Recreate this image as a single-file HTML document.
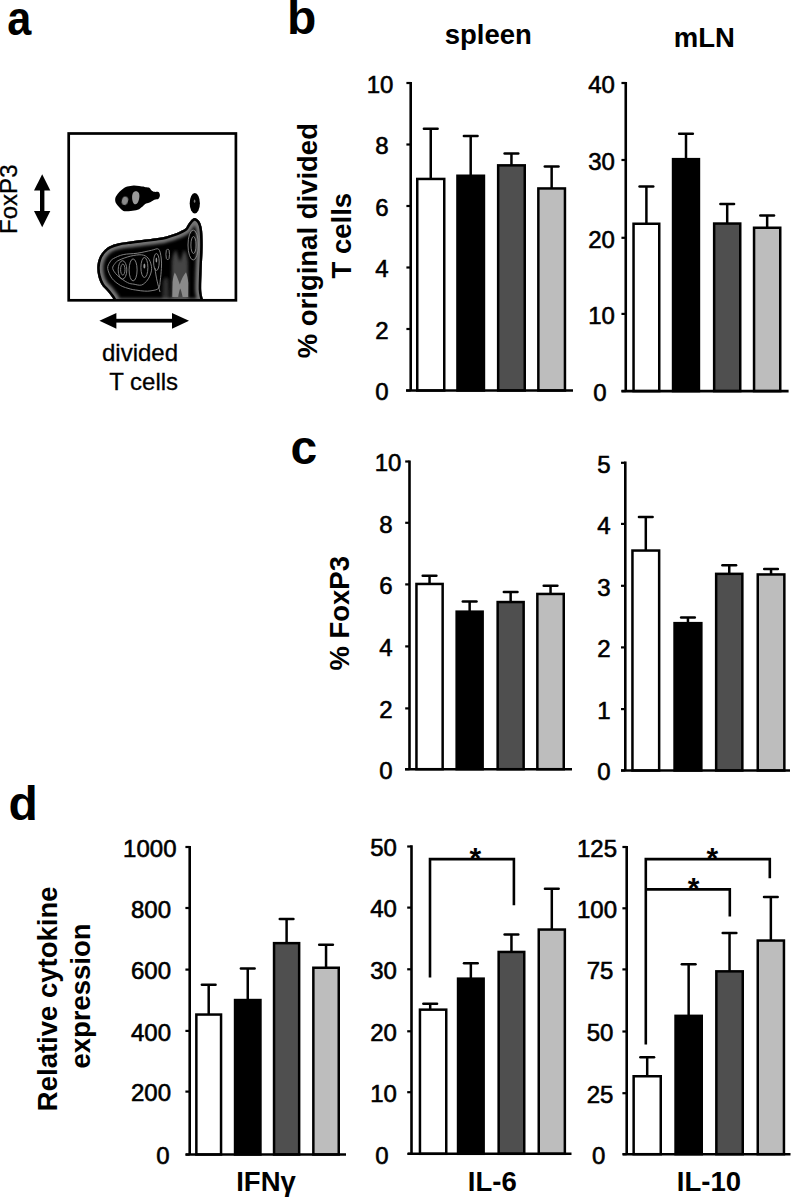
<!DOCTYPE html><html><head><meta charset="utf-8"><title>figure</title><style>
html,body{margin:0;padding:0;background:#fff;width:793px;height:1197px;overflow:hidden}
svg{display:block}
text{font-family:"Liberation Sans",sans-serif;fill:#000}
.tk{font-size:24px;text-anchor:middle;stroke:#000;stroke-width:0.6px}
.pl{font-size:48px;font-weight:bold}
.ttl{font-size:27.5px;font-weight:bold;text-anchor:middle}
.ast{font-size:30px;font-weight:bold;text-anchor:middle}
.lab{font-size:24px;text-anchor:middle;stroke:#000;stroke-width:0.3px}
</style></head><body>
<svg width="793" height="1197" viewBox="0 0 793 1197">
<rect width="793" height="1197" fill="#fff"/>
<text class="pl" transform="translate(7.2,34.8) scale(0.9,1)">a</text>
<text x="287" y="33.7" class="pl">b</text>
<text x="290.5" y="464" class="pl">c</text>
<text x="8.5" y="819.7" class="pl">d</text>
<text x="488.3" y="43.8" class="ttl">spleen</text>
<text x="704.4" y="46.5" class="ttl">mLN</text>
<text class="ttl" transform="translate(316.9,240.7) rotate(-90)" x="0" y="0">% original divided</text>
<text class="ttl" transform="translate(350.5,235.7) rotate(-90)" x="0" y="0">T cells</text>
<text class="ttl" transform="translate(348.6,613.3) rotate(-90)" x="0" y="0">% FoxP3</text>
<text class="ttl" transform="translate(56.6,998.8) rotate(-90)" x="0" y="0">Relative cytokine</text>
<text class="ttl" transform="translate(89.7,996) rotate(-90)" x="0" y="0">expression</text>
<line x1="410.7" y1="82" x2="410.7" y2="390.5" stroke="#000" stroke-width="2.6"/>
<line x1="406.4" y1="83" x2="410.7" y2="83" stroke="#000" stroke-width="2.2"/>
<text x="380" y="92.7" class="tk">10</text>
<line x1="406.4" y1="144.5" x2="410.7" y2="144.5" stroke="#000" stroke-width="2.2"/>
<text x="382" y="154.2" class="tk">8</text>
<line x1="406.4" y1="206" x2="410.7" y2="206" stroke="#000" stroke-width="2.2"/>
<text x="382" y="215.7" class="tk">6</text>
<line x1="406.4" y1="267.5" x2="410.7" y2="267.5" stroke="#000" stroke-width="2.2"/>
<text x="382" y="277.2" class="tk">4</text>
<line x1="406.4" y1="329" x2="410.7" y2="329" stroke="#000" stroke-width="2.2"/>
<text x="382" y="338.7" class="tk">2</text>
<line x1="406.4" y1="390.5" x2="410.7" y2="390.5" stroke="#000" stroke-width="2.2"/>
<text x="382" y="400.2" class="tk">0</text>
<line x1="430.75" y1="128.8" x2="430.75" y2="178.7" stroke="#000" stroke-width="2.5"/>
<line x1="423.9" y1="128.8" x2="437.6" y2="128.8" stroke="#000" stroke-width="2.5" stroke-linecap="round"/>
<rect x="417.25" y="178.95" width="27.0" height="211.55" fill="#ffffff" stroke="#000" stroke-width="2.5"/>
<line x1="470.7" y1="136.1" x2="470.7" y2="175.5" stroke="#000" stroke-width="2.5"/>
<line x1="463.84999999999997" y1="136.1" x2="477.55" y2="136.1" stroke="#000" stroke-width="2.5" stroke-linecap="round"/>
<rect x="457.45" y="175.75" width="26.5" height="214.75" fill="#000000" stroke="#000" stroke-width="2.5"/>
<line x1="511.45" y1="153.4" x2="511.45" y2="165.1" stroke="#000" stroke-width="2.5"/>
<line x1="504.59999999999997" y1="153.4" x2="518.3" y2="153.4" stroke="#000" stroke-width="2.5" stroke-linecap="round"/>
<rect x="498.15" y="165.35" width="26.600000000000023" height="225.15" fill="#4f4f4f" stroke="#000" stroke-width="2.5"/>
<line x1="551.6500000000001" y1="166.5" x2="551.6500000000001" y2="188.2" stroke="#000" stroke-width="2.5"/>
<line x1="544.8000000000001" y1="166.5" x2="558.5000000000001" y2="166.5" stroke="#000" stroke-width="2.5" stroke-linecap="round"/>
<rect x="538.35" y="188.45" width="26.600000000000023" height="202.05" fill="#bdbdbd" stroke="#000" stroke-width="2.5"/>
<line x1="406" y1="390.5" x2="573" y2="390.5" stroke="#000" stroke-width="2.6"/>
<line x1="625.75" y1="82" x2="625.75" y2="391.1" stroke="#000" stroke-width="2.6"/>
<line x1="621.45" y1="83" x2="625.75" y2="83" stroke="#000" stroke-width="2.2"/>
<text x="601.5" y="92.7" class="tk">40</text>
<line x1="621.45" y1="160" x2="625.75" y2="160" stroke="#000" stroke-width="2.2"/>
<text x="601.5" y="169.7" class="tk">30</text>
<line x1="621.45" y1="237.8" x2="625.75" y2="237.8" stroke="#000" stroke-width="2.2"/>
<text x="601.5" y="247.5" class="tk">20</text>
<line x1="621.45" y1="313.9" x2="625.75" y2="313.9" stroke="#000" stroke-width="2.2"/>
<text x="601.5" y="323.59999999999997" class="tk">10</text>
<line x1="621.45" y1="391.1" x2="625.75" y2="391.1" stroke="#000" stroke-width="2.2"/>
<text x="600" y="400.8" class="tk">0</text>
<line x1="646.4" y1="186.5" x2="646.4" y2="223.5" stroke="#000" stroke-width="2.5"/>
<line x1="639.55" y1="186.5" x2="653.25" y2="186.5" stroke="#000" stroke-width="2.5" stroke-linecap="round"/>
<rect x="633.55" y="223.75" width="25.700000000000045" height="167.35000000000002" fill="#ffffff" stroke="#000" stroke-width="2.5"/>
<line x1="686.0" y1="133.7" x2="686.0" y2="158.9" stroke="#000" stroke-width="2.5"/>
<line x1="679.15" y1="133.7" x2="692.85" y2="133.7" stroke="#000" stroke-width="2.5" stroke-linecap="round"/>
<rect x="673.05" y="159.15" width="25.90000000000009" height="231.95000000000002" fill="#000000" stroke="#000" stroke-width="2.5"/>
<line x1="727.2" y1="204" x2="727.2" y2="223.3" stroke="#000" stroke-width="2.5"/>
<line x1="720.35" y1="204" x2="734.0500000000001" y2="204" stroke="#000" stroke-width="2.5" stroke-linecap="round"/>
<rect x="714.15" y="223.55" width="26.100000000000023" height="167.55" fill="#4f4f4f" stroke="#000" stroke-width="2.5"/>
<line x1="767.15" y1="215.5" x2="767.15" y2="227.5" stroke="#000" stroke-width="2.5"/>
<line x1="760.3" y1="215.5" x2="774.0" y2="215.5" stroke="#000" stroke-width="2.5" stroke-linecap="round"/>
<rect x="754.05" y="227.75" width="26.200000000000045" height="163.35000000000002" fill="#bdbdbd" stroke="#000" stroke-width="2.5"/>
<line x1="621.5" y1="391.1" x2="788.6" y2="391.1" stroke="#000" stroke-width="2.6"/>
<line x1="409.5" y1="460.5" x2="409.5" y2="769.2" stroke="#000" stroke-width="2.6"/>
<line x1="405.2" y1="461.5" x2="409.5" y2="461.5" stroke="#000" stroke-width="2.2"/>
<text x="388" y="471.2" class="tk">10</text>
<line x1="405.2" y1="522.8" x2="409.5" y2="522.8" stroke="#000" stroke-width="2.2"/>
<text x="386" y="532.5" class="tk">8</text>
<line x1="405.2" y1="584.4" x2="409.5" y2="584.4" stroke="#000" stroke-width="2.2"/>
<text x="386" y="594.1" class="tk">6</text>
<line x1="405.2" y1="646.4" x2="409.5" y2="646.4" stroke="#000" stroke-width="2.2"/>
<text x="386" y="656.1" class="tk">4</text>
<line x1="405.2" y1="708.4" x2="409.5" y2="708.4" stroke="#000" stroke-width="2.2"/>
<text x="386" y="718.1" class="tk">2</text>
<line x1="405.2" y1="769.2" x2="409.5" y2="769.2" stroke="#000" stroke-width="2.2"/>
<text x="386" y="778.9000000000001" class="tk">0</text>
<line x1="429.54999999999995" y1="575.8" x2="429.54999999999995" y2="583.7" stroke="#000" stroke-width="2.5"/>
<line x1="422.69999999999993" y1="575.8" x2="436.4" y2="575.8" stroke="#000" stroke-width="2.5" stroke-linecap="round"/>
<rect x="416.45" y="583.95" width="26.19999999999999" height="185.25" fill="#ffffff" stroke="#000" stroke-width="2.5"/>
<line x1="469.65" y1="601.4" x2="469.65" y2="611.4" stroke="#000" stroke-width="2.5"/>
<line x1="462.79999999999995" y1="601.4" x2="476.5" y2="601.4" stroke="#000" stroke-width="2.5" stroke-linecap="round"/>
<rect x="456.65" y="611.65" width="26.0" height="157.55000000000007" fill="#000000" stroke="#000" stroke-width="2.5"/>
<line x1="510.65" y1="592" x2="510.65" y2="601.8" stroke="#000" stroke-width="2.5"/>
<line x1="503.79999999999995" y1="592" x2="517.5" y2="592" stroke="#000" stroke-width="2.5" stroke-linecap="round"/>
<rect x="497.65" y="602.05" width="26.0" height="167.1500000000001" fill="#4f4f4f" stroke="#000" stroke-width="2.5"/>
<line x1="550.55" y1="585.8" x2="550.55" y2="593.7" stroke="#000" stroke-width="2.5"/>
<line x1="543.6999999999999" y1="585.8" x2="557.4" y2="585.8" stroke="#000" stroke-width="2.5" stroke-linecap="round"/>
<rect x="537.35" y="593.95" width="26.399999999999977" height="175.25" fill="#bdbdbd" stroke="#000" stroke-width="2.5"/>
<line x1="405" y1="769.2" x2="572" y2="769.2" stroke="#000" stroke-width="2.6"/>
<line x1="625.3" y1="461.5" x2="625.3" y2="770.5" stroke="#000" stroke-width="2.6"/>
<line x1="621.0" y1="462.8" x2="625.3" y2="462.8" stroke="#000" stroke-width="2.2"/>
<text x="603.9" y="472.5" class="tk">5</text>
<line x1="621.0" y1="523.9" x2="625.3" y2="523.9" stroke="#000" stroke-width="2.2"/>
<text x="603.9" y="533.6" class="tk">4</text>
<line x1="621.0" y1="585.8" x2="625.3" y2="585.8" stroke="#000" stroke-width="2.2"/>
<text x="603.9" y="595.5" class="tk">3</text>
<line x1="621.0" y1="647.4" x2="625.3" y2="647.4" stroke="#000" stroke-width="2.2"/>
<text x="603.9" y="657.1" class="tk">2</text>
<line x1="621.0" y1="709.1" x2="625.3" y2="709.1" stroke="#000" stroke-width="2.2"/>
<text x="603.9" y="718.8000000000001" class="tk">1</text>
<line x1="621.0" y1="770.5" x2="625.3" y2="770.5" stroke="#000" stroke-width="2.2"/>
<text x="603.9" y="780.2" class="tk">0</text>
<line x1="645.8" y1="517.1" x2="645.8" y2="550.3" stroke="#000" stroke-width="2.5"/>
<line x1="638.9499999999999" y1="517.1" x2="652.65" y2="517.1" stroke="#000" stroke-width="2.5" stroke-linecap="round"/>
<rect x="632.45" y="550.55" width="26.699999999999932" height="219.95000000000005" fill="#ffffff" stroke="#000" stroke-width="2.5"/>
<line x1="687.95" y1="617.4" x2="687.95" y2="622.9" stroke="#000" stroke-width="2.5"/>
<line x1="681.1" y1="617.4" x2="694.8000000000001" y2="617.4" stroke="#000" stroke-width="2.5" stroke-linecap="round"/>
<rect x="674.55" y="623.15" width="26.800000000000068" height="147.35000000000002" fill="#000000" stroke="#000" stroke-width="2.5"/>
<line x1="729.25" y1="565.3" x2="729.25" y2="573.6" stroke="#000" stroke-width="2.5"/>
<line x1="722.4" y1="565.3" x2="736.1" y2="565.3" stroke="#000" stroke-width="2.5" stroke-linecap="round"/>
<rect x="716.15" y="573.85" width="26.200000000000045" height="196.64999999999998" fill="#4f4f4f" stroke="#000" stroke-width="2.5"/>
<line x1="771.05" y1="569.1" x2="771.05" y2="574.2" stroke="#000" stroke-width="2.5"/>
<line x1="764.1999999999999" y1="569.1" x2="777.9" y2="569.1" stroke="#000" stroke-width="2.5" stroke-linecap="round"/>
<rect x="757.75" y="574.45" width="26.600000000000023" height="196.04999999999995" fill="#bdbdbd" stroke="#000" stroke-width="2.5"/>
<line x1="621" y1="770.5" x2="790" y2="770.5" stroke="#000" stroke-width="2.6"/>
<line x1="189.7" y1="846" x2="189.7" y2="1154.5" stroke="#000" stroke-width="2.6"/>
<line x1="185.39999999999998" y1="847" x2="189.7" y2="847" stroke="#000" stroke-width="2.2"/>
<text x="149.8" y="856.7" class="tk">1000</text>
<line x1="185.39999999999998" y1="908" x2="189.7" y2="908" stroke="#000" stroke-width="2.2"/>
<text x="151" y="917.7" class="tk">800</text>
<line x1="185.39999999999998" y1="969.6" x2="189.7" y2="969.6" stroke="#000" stroke-width="2.2"/>
<text x="151" y="979.3000000000001" class="tk">600</text>
<line x1="185.39999999999998" y1="1030.9" x2="189.7" y2="1030.9" stroke="#000" stroke-width="2.2"/>
<text x="151" y="1040.6000000000001" class="tk">400</text>
<line x1="185.39999999999998" y1="1091.6" x2="189.7" y2="1091.6" stroke="#000" stroke-width="2.2"/>
<text x="151" y="1101.3" class="tk">200</text>
<line x1="185.39999999999998" y1="1154.6" x2="189.7" y2="1154.6" stroke="#000" stroke-width="2.2"/>
<text x="163" y="1164.3" class="tk">0</text>
<line x1="208.7" y1="984.7" x2="208.7" y2="1014.3" stroke="#000" stroke-width="2.5"/>
<line x1="201.85" y1="984.7" x2="215.54999999999998" y2="984.7" stroke="#000" stroke-width="2.5" stroke-linecap="round"/>
<rect x="196.35" y="1014.55" width="24.700000000000017" height="139.95000000000005" fill="#ffffff" stroke="#000" stroke-width="2.5"/>
<line x1="247.75" y1="968.5" x2="247.75" y2="999.8" stroke="#000" stroke-width="2.5"/>
<line x1="240.9" y1="968.5" x2="254.6" y2="968.5" stroke="#000" stroke-width="2.5" stroke-linecap="round"/>
<rect x="235.05" y="1000.05" width="25.399999999999977" height="154.45000000000005" fill="#000000" stroke="#000" stroke-width="2.5"/>
<line x1="286.6" y1="919.1" x2="286.6" y2="942.9" stroke="#000" stroke-width="2.5"/>
<line x1="279.75" y1="919.1" x2="293.45000000000005" y2="919.1" stroke="#000" stroke-width="2.5" stroke-linecap="round"/>
<rect x="274.05" y="943.15" width="25.099999999999966" height="211.35000000000002" fill="#4f4f4f" stroke="#000" stroke-width="2.5"/>
<line x1="326.05" y1="944.7" x2="326.05" y2="967.5" stroke="#000" stroke-width="2.5"/>
<line x1="319.2" y1="944.7" x2="332.90000000000003" y2="944.7" stroke="#000" stroke-width="2.5" stroke-linecap="round"/>
<rect x="313.35" y="967.75" width="25.399999999999977" height="186.75" fill="#bdbdbd" stroke="#000" stroke-width="2.5"/>
<line x1="185.7" y1="1154.5" x2="346" y2="1154.5" stroke="#000" stroke-width="2.6"/>
<line x1="411.5" y1="845.3" x2="411.5" y2="1153.8" stroke="#000" stroke-width="2.6"/>
<line x1="407.2" y1="846.5" x2="411.5" y2="846.5" stroke="#000" stroke-width="2.2"/>
<text x="383.6" y="856.2" class="tk">50</text>
<line x1="407.2" y1="907.6" x2="411.5" y2="907.6" stroke="#000" stroke-width="2.2"/>
<text x="383.6" y="917.3000000000001" class="tk">40</text>
<line x1="407.2" y1="969.3" x2="411.5" y2="969.3" stroke="#000" stroke-width="2.2"/>
<text x="383.6" y="979.0" class="tk">30</text>
<line x1="407.2" y1="1031.3" x2="411.5" y2="1031.3" stroke="#000" stroke-width="2.2"/>
<text x="383.6" y="1041.0" class="tk">20</text>
<line x1="407.2" y1="1092.2" x2="411.5" y2="1092.2" stroke="#000" stroke-width="2.2"/>
<text x="383.6" y="1101.9" class="tk">10</text>
<line x1="407.2" y1="1153.8" x2="411.5" y2="1153.8" stroke="#000" stroke-width="2.2"/>
<text x="382" y="1163.5" class="tk">0</text>
<line x1="430.2" y1="1003.8" x2="430.2" y2="1009.4" stroke="#000" stroke-width="2.5"/>
<line x1="423.34999999999997" y1="1003.8" x2="437.05" y2="1003.8" stroke="#000" stroke-width="2.5" stroke-linecap="round"/>
<rect x="419.95" y="1009.65" width="26.30000000000001" height="144.14999999999998" fill="#ffffff" stroke="#000" stroke-width="2.5"/>
<line x1="470.85" y1="963.2" x2="470.85" y2="978.4" stroke="#000" stroke-width="2.5"/>
<line x1="464.0" y1="963.2" x2="477.70000000000005" y2="963.2" stroke="#000" stroke-width="2.5" stroke-linecap="round"/>
<rect x="458.05" y="978.65" width="25.599999999999966" height="175.14999999999998" fill="#000000" stroke="#000" stroke-width="2.5"/>
<line x1="511.45" y1="934.5" x2="511.45" y2="951.7" stroke="#000" stroke-width="2.5"/>
<line x1="504.59999999999997" y1="934.5" x2="518.3" y2="934.5" stroke="#000" stroke-width="2.5" stroke-linecap="round"/>
<rect x="498.65" y="951.95" width="25.600000000000023" height="201.8499999999999" fill="#4f4f4f" stroke="#000" stroke-width="2.5"/>
<line x1="551.8" y1="888.7" x2="551.8" y2="929.3" stroke="#000" stroke-width="2.5"/>
<line x1="544.9499999999999" y1="888.7" x2="558.65" y2="888.7" stroke="#000" stroke-width="2.5" stroke-linecap="round"/>
<rect x="538.75" y="929.55" width="26.100000000000023" height="224.25" fill="#bdbdbd" stroke="#000" stroke-width="2.5"/>
<line x1="408" y1="1153.8" x2="571.5" y2="1153.8" stroke="#000" stroke-width="2.6"/>
<line x1="626.7" y1="845.9" x2="626.7" y2="1154.2" stroke="#000" stroke-width="2.6"/>
<line x1="622.4000000000001" y1="847" x2="626.7" y2="847" stroke="#000" stroke-width="2.2"/>
<text x="597" y="856.7" class="tk">125</text>
<line x1="622.4000000000001" y1="908.3" x2="626.7" y2="908.3" stroke="#000" stroke-width="2.2"/>
<text x="597" y="918.0" class="tk">100</text>
<line x1="622.4000000000001" y1="969.4" x2="626.7" y2="969.4" stroke="#000" stroke-width="2.2"/>
<text x="600" y="979.1" class="tk">75</text>
<line x1="622.4000000000001" y1="1031.5" x2="626.7" y2="1031.5" stroke="#000" stroke-width="2.2"/>
<text x="600" y="1041.2" class="tk">50</text>
<line x1="622.4000000000001" y1="1093.2" x2="626.7" y2="1093.2" stroke="#000" stroke-width="2.2"/>
<text x="600" y="1102.9" class="tk">25</text>
<line x1="622.4000000000001" y1="1154.2" x2="626.7" y2="1154.2" stroke="#000" stroke-width="2.2"/>
<text x="598.7" y="1163.9" class="tk">0</text>
<line x1="647.2" y1="1057.3" x2="647.2" y2="1076.0" stroke="#000" stroke-width="2.5"/>
<line x1="640.35" y1="1057.3" x2="654.0500000000001" y2="1057.3" stroke="#000" stroke-width="2.5" stroke-linecap="round"/>
<rect x="633.65" y="1076.25" width="27.100000000000023" height="77.95000000000005" fill="#ffffff" stroke="#000" stroke-width="2.5"/>
<line x1="688.65" y1="964.3" x2="688.65" y2="1015.6" stroke="#000" stroke-width="2.5"/>
<line x1="681.8" y1="964.3" x2="695.5" y2="964.3" stroke="#000" stroke-width="2.5" stroke-linecap="round"/>
<rect x="675.55" y="1015.85" width="26.200000000000045" height="138.35000000000002" fill="#000000" stroke="#000" stroke-width="2.5"/>
<line x1="729.55" y1="933.1" x2="729.55" y2="971.1" stroke="#000" stroke-width="2.5"/>
<line x1="722.6999999999999" y1="933.1" x2="736.4" y2="933.1" stroke="#000" stroke-width="2.5" stroke-linecap="round"/>
<rect x="716.35" y="971.35" width="26.399999999999977" height="182.85000000000002" fill="#4f4f4f" stroke="#000" stroke-width="2.5"/>
<line x1="770.85" y1="897.1" x2="770.85" y2="940.3" stroke="#000" stroke-width="2.5"/>
<line x1="764.0" y1="897.1" x2="777.7" y2="897.1" stroke="#000" stroke-width="2.5" stroke-linecap="round"/>
<rect x="757.75" y="940.55" width="26.200000000000045" height="213.6500000000001" fill="#bdbdbd" stroke="#000" stroke-width="2.5"/>
<line x1="622.7" y1="1154.2" x2="790.5" y2="1154.2" stroke="#000" stroke-width="2.6"/>
<text x="266" y="1191.2" class="ttl">IFNγ</text>
<text x="492.3" y="1191.3" class="ttl">IL-6</text>
<text x="708.9" y="1191" class="ttl">IL-10</text>
<polyline points="430,977.5 430,859.1 513.9,859.1 513.9,905.2" fill="none" stroke="#000" stroke-width="2.6"/>
<text x="475.4" y="868" class="ast">*</text>
<polyline points="645.8,1044.6 645.8,859.1 769.8,859.1 769.8,878.3" fill="none" stroke="#000" stroke-width="2.6"/>
<polyline points="645.8,889.4 645.8,889.4 729.8,889.4 729.8,916.4" fill="none" stroke="#000" stroke-width="2.6"/>
<text x="712.4" y="868" class="ast">*</text>
<text x="693.5" y="897.5" class="ast">*</text>
<defs>
<filter id="bl2" x="-20%" y="-20%" width="140%" height="140%"><feGaussianBlur stdDeviation="1.6"/></filter>
<filter id="bl1" x="-20%" y="-20%" width="140%" height="140%"><feGaussianBlur stdDeviation="0.6"/></filter>
<filter id="bl15" x="-20%" y="-20%" width="140%" height="140%"><feGaussianBlur stdDeviation="1.3"/></filter>
<clipPath id="bigclip"><path id="bigp" d="M112.0,304.0 C97.0,303.3 114.3,301.7 113.6,299.7 C112.9,297.7 109.9,294.3 107.9,291.8 C105.9,289.3 103.3,287.4 101.7,284.7 C100.1,282.0 98.9,278.8 98.2,275.9 C97.5,273.0 97.2,270.1 97.3,267.1 C97.4,264.2 98.1,260.9 99.1,258.2 C100.1,255.5 101.7,253.2 103.5,251.2 C105.3,249.2 107.2,247.6 109.7,246.3 C112.2,245.0 114.8,244.0 118.5,243.2 C122.2,242.3 127.3,241.8 131.7,241.2 C136.1,240.6 141.0,240.1 145.0,239.6 C149.0,239.1 152.8,238.6 155.7,238.2 C158.6,237.8 160.2,237.8 162.5,237.3 C164.8,236.8 167.1,236.1 169.2,235.4 C171.3,234.8 173.4,234.1 175.3,233.4 C177.2,232.7 178.8,232.0 180.5,231.2 C182.2,230.4 184.1,229.8 185.4,228.5 C186.8,227.2 187.4,225.1 188.6,223.5 C189.8,221.9 191.3,219.9 192.5,219.0 C193.7,218.1 194.4,217.7 195.6,218.2 C196.8,218.7 198.5,220.0 199.6,221.8 C200.7,223.6 201.4,226.0 201.9,229.0 C202.4,232.0 202.5,236.2 202.6,240.0 C202.7,243.8 202.7,246.8 202.5,252.0 C202.3,257.2 201.8,265.1 201.6,271.4 C201.4,277.7 201.0,285.5 201.2,290.0 C201.4,294.5 202.2,296.0 202.6,298.3 C203.0,300.6 218.6,303.1 203.5,304.0 C188.4,304.9 127.0,304.7 112.0,304.0 Z"/></clipPath>
<clipPath id="boxclip"><rect x="69" y="134" width="166" height="166"/></clipPath>
</defs>
<path d="M115.2,198.7 C115.4,197.1 116.5,195.4 117.6,193.9 C118.7,192.4 120.2,190.9 121.8,189.7 C123.4,188.5 125.3,187.3 127.3,186.6 C129.3,185.9 131.6,185.5 133.6,185.4 C135.6,185.3 137.2,185.8 139.1,186.1 C140.9,186.3 143.1,186.7 144.7,186.9 C146.3,187.2 147.7,187.0 148.8,187.6 C150.0,188.2 150.7,189.7 151.6,190.4 C152.5,191.1 153.2,191.5 154.4,191.8 C155.6,192.1 157.6,191.5 158.5,192.1 C159.4,192.7 159.9,194.2 159.9,195.3 C159.9,196.4 159.4,197.9 158.5,198.7 C157.6,199.4 155.8,199.2 154.4,199.8 C153.0,200.4 151.6,201.6 150.2,202.2 C148.8,202.8 147.4,202.9 146.1,203.6 C144.8,204.3 144.0,205.4 142.6,206.4 C141.2,207.4 139.7,209.1 137.7,209.8 C135.7,210.6 133.0,210.7 130.8,210.9 C128.6,211.1 126.3,211.6 124.6,211.2 C122.9,210.8 121.8,209.7 120.4,208.4 C119.0,207.1 117.1,205.2 116.2,203.6 C115.3,202.0 115.0,200.3 115.2,198.7 Z" fill="#000"/>
<ellipse cx="124.9" cy="200.8" rx="3.1" ry="4.2" fill="#8a8a8a" filter="url(#bl1)" transform="rotate(15 124.9 200.8)"/>
<path d="M135.9,191.2 C138.5,191.2 139.6,193.5 139.4,196.5 C139.2,200 137.8,204.3 135.5,204.3 C133.2,204.3 132,200.5 132.1,197 C132.2,193.5 133.4,191.2 135.9,191.2 Z" fill="#999" filter="url(#bl1)"/>
<ellipse cx="194.8" cy="203.3" rx="5.1" ry="10.3" fill="#000"/>
<ellipse cx="194.6" cy="201.2" rx="0.8" ry="1.6" fill="#777"/>
<g clip-path="url(#boxclip)"><g clip-path="url(#bigclip)">
<rect x="90" y="210" width="120" height="95" fill="#000"/>
<g filter="url(#bl2)">
<path d="M171.5,302 L172,262 C172.5,256 174,252 176,250 L180,262 L184,250 C186,252 187.5,256 188,262 L188.5,302 Z" fill="#444"/>
<path d="M162,302 L163,282 C164,277 167,276 168.5,280 L169.5,302 Z" fill="#2e2e2e"/>
</g>
<g filter="url(#bl1)">
<path d="M172.3,297 L172.6,282 C173.2,277 174,274 174.8,272.5 C176.8,276 178.8,281 179.8,284.5 C181.2,280 183.5,275 186,272.2 C187.2,275 188,279 188.3,283 L188.2,297 L182.6,297 C181.8,293 181.2,290.5 180.2,288.5 C179.4,290.5 178.8,293 178.2,297 Z" fill="#8a8a8a"/>
</g>
<use href="#bigp" fill="none" stroke="#747474" stroke-width="12" filter="url(#bl2)"/>
<use href="#bigp" fill="none" stroke="#000" stroke-width="5"/>
<g fill="none" stroke="#8c8c8c" stroke-width="0.9">
<path d="M107.7,268.5 C107.4,265.8 109.0,263.6 110.0,262.0 C111.0,260.4 111.2,259.8 113.4,258.6 C115.6,257.4 119.2,255.5 123.2,254.6 C127.2,253.7 132.7,253.9 137.4,253.2 C142.1,252.5 148.0,251.0 151.5,250.3 C155.0,249.6 157.0,247.9 158.6,249.2 C160.2,250.5 160.7,254.8 161.2,258.0 C161.7,261.2 161.6,264.8 161.4,268.5 C161.2,272.2 160.8,276.7 160.3,280.0 C159.8,283.3 160.2,286.5 158.6,288.3 C157.0,290.1 153.4,290.3 151.0,290.8 C148.6,291.3 146.7,291.2 144.4,291.1 C142.1,291.0 139.3,290.6 137.0,290.2 C134.7,289.8 133.1,289.8 130.3,289.0 C127.5,288.2 123.5,287.2 120.4,285.4 C117.4,283.6 114.1,281.2 112.0,278.4 C109.9,275.6 108.0,271.2 107.7,268.5 Z"/>
<path d="M112.7,268.5 C112.3,266.5 114.0,264.9 115.0,263.5 C116.0,262.1 116.5,261.4 119.0,260.2 C121.5,259.0 126.5,257.1 130.3,256.2 C134.1,255.3 138.7,254.5 141.6,254.8 C144.5,255.1 146.4,256.3 148.0,258.0 C149.6,259.7 150.7,262.7 151.2,265.0 C151.7,267.3 151.8,269.5 151.2,272.0 C150.6,274.5 149.1,277.8 147.5,280.0 C145.9,282.2 143.8,284.3 141.6,285.0 C139.3,285.7 136.3,284.6 134.0,284.2 C131.7,283.8 130.2,284.0 127.5,282.6 C124.8,281.2 120.1,278.0 117.6,275.6 C115.1,273.2 113.1,270.5 112.7,268.5 Z"/>
<ellipse cx="122.5" cy="269.9" rx="4.3" ry="9.2"/>
<ellipse cx="122.8" cy="269.6" rx="2.2" ry="5.5"/>
<ellipse cx="133.1" cy="269.9" rx="4" ry="11"/>
<ellipse cx="144.4" cy="267.5" rx="3.5" ry="10"/>
<ellipse cx="156.4" cy="262" rx="2.8" ry="8.5"/>
<path d="M155,268 C156,278 158,285 160,292"/>
<ellipse cx="167.7" cy="254.4" rx="1.8" ry="5.5"/>
<ellipse cx="193.2" cy="245" rx="5.2" ry="15"/>
<ellipse cx="193.5" cy="245" rx="2.6" ry="8.5"/>
</g>
<ellipse cx="144.4" cy="266" rx="1" ry="2.5" fill="#9a9a9a"/>
<ellipse cx="156.4" cy="260" rx="0.8" ry="2.5" fill="#9a9a9a"/>
</g></g>
<rect x="68.7" y="133.5" width="167.2" height="166.8" fill="none" stroke="#000" stroke-width="2.7"/>
<!-- arrows -->
<g fill="#000">
<rect x="40" y="188" width="4.4" height="25"/>
<polygon points="42.2,174.3 34,190.6 50.3,190.6"/>
<polygon points="42.2,227.2 34,210.9 50.3,210.9"/>
<rect x="114" y="318.8" width="60" height="3.8"/>
<polygon points="99.4,320.7 116.4,312.9 116.4,328.8"/>
<polygon points="189,320.7 172,312.9 172,328.8"/>
</g>
<text x="140" y="361.3" class="lab">divided</text>
<text x="143.6" y="390" class="lab">T cells</text>
<text class="lab" font-size="23" transform="translate(17.2,199.2) rotate(-90)">FoxP3</text>

</svg></body></html>
